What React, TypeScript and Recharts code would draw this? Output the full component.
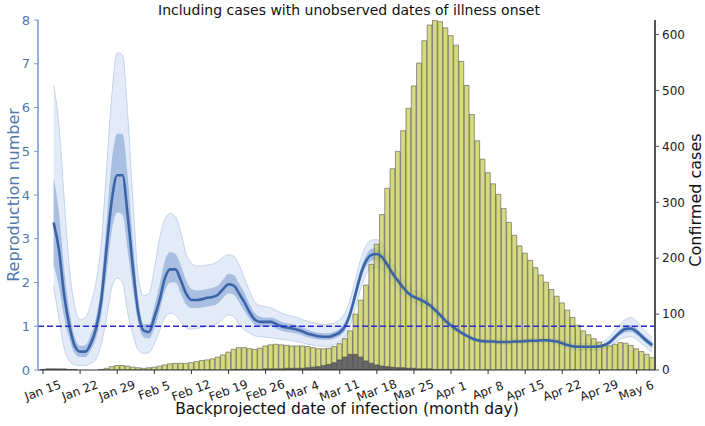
import React from 'react';
import { ComposedChart, Bar, Area, Line, XAxis, YAxis, ReferenceLine } from 'recharts';

// day 0 = Jan 15, last day = May 9
const tickDays = [0, 7, 14, 21, 28, 35, 42, 49, 56, 63, 70, 77, 84, 91, 98, 105, 112];
const tickLabels = ['Jan 15', 'Jan 22', 'Jan 29', 'Feb 5', 'Feb 12', 'Feb 19', 'Feb 26', 'Mar 4', 'Mar 11',
  'Mar 18', 'Mar 25', 'Apr 1', 'Apr 8', 'Apr 15', 'Apr 22', 'Apr 29', 'May 6'];

const totalCases = [
  // Jan 15-31
  1, 2, 2, 2, 2, 1, 1, 0, 0, 0, 0, 1, 3, 6, 8, 8, 7,
  // Feb
  5, 4, 3, 4, 5, 7, 9, 11, 12, 12, 12, 13, 15, 17, 18, 20, 23, 27, 32, 37, 40, 40, 38, 37, 39, 43, 45, 46, 45,
  // Mar
  44, 43, 43, 43, 42, 40, 38, 38, 39, 42, 47, 56, 70, 100, 125, 152, 189, 225, 278, 325, 360, 391, 428, 468,
  508, 549, 589, 617, 626, 623, 612,
  // Apr
  598, 581, 552, 509, 457, 410, 377, 353, 333, 314, 289, 264, 241, 222, 209, 196, 183, 170, 157, 144, 132,
  120, 107, 94, 80, 70, 63, 56, 50, 45,
  // May 1-9
  43, 46, 49, 48, 44, 38, 33, 28, 22,
];

const darkCases = [
  1, 2, 2, 2, 2, 1, 1, 0, 0, 0, 0, 0, 0, 0, 0, 0, 0,
  0, 0, 0, 0, 0, 0, 0, 0, 0, 0, 0, 0, 0, 0, 0, 0, 0, 0, 0, 1, 1, 1, 1, 1, 1, 2, 2, 2, 2,
  3, 3, 3, 3, 4, 5, 6, 8, 10, 13, 18, 23, 28, 28, 23, 16, 12, 9, 7, 6, 5, 4, 4, 3, 3, 2, 2, 2, 1, 1, 1,
  1, 1, 1, 0, 0, 0, 0, 0, 0, 0, 0, 0, 0, 0, 0, 0, 0, 0, 0, 0, 0, 0, 0, 0, 0, 0, 0, 0, 0, 0,
  0, 0, 0, 0, 0, 0, 0, 0, 0,
];

// reproduction number, Jan 17 - May 9
const rStartDay = 2;
const rMedian = [
  3.37, 2.75, 1.7, 1.0, 0.55, 0.42, 0.42, 0.6, 0.95, 1.6, 2.8, 3.9, 4.45, 4.45, 3.5,
  2.3, 1.3, 0.9, 0.87, 1.2, 1.6, 2.1, 2.3, 2.3, 2.05, 1.75, 1.6, 1.6, 1.62, 1.65, 1.67, 1.72, 1.85, 1.96, 1.93,
  1.75, 1.55, 1.32, 1.15, 1.1, 1.1, 1.1, 1.05, 1.0,
  0.97, 0.95, 0.92, 0.88, 0.83, 0.8, 0.77, 0.76, 0.76, 0.8, 0.86, 1.0, 1.3, 1.75, 2.2, 2.5, 2.63, 2.65, 2.58,
  2.4, 2.2, 2.04, 1.88, 1.75, 1.67, 1.62, 1.56, 1.48, 1.37, 1.25, 1.12,
  1.02, 0.93, 0.85, 0.78, 0.72, 0.68, 0.66, 0.65, 0.65, 0.64, 0.64, 0.64, 0.65, 0.65, 0.66, 0.67, 0.67, 0.68,
  0.68, 0.67, 0.65, 0.61, 0.57, 0.54, 0.53, 0.53, 0.53, 0.53, 0.54, 0.57,
  0.64, 0.76, 0.87, 0.94, 0.95, 0.88, 0.77, 0.66, 0.57,
];
const r50Lo = [
  2.4, 1.9, 1.2, 0.7, 0.38, 0.3, 0.3, 0.45, 0.72, 1.25, 2.2, 3.2, 3.6, 3.55, 2.7,
  1.8, 1.05, 0.75, 0.72, 0.95, 1.35, 1.8, 2.0, 2.0, 1.75, 1.5, 1.42, 1.42, 1.43, 1.45, 1.47, 1.52, 1.65, 1.75,
  1.72, 1.55, 1.35, 1.17, 1.03, 0.99, 0.99, 1.0, 0.95, 0.9,
  0.87, 0.85, 0.83, 0.79, 0.75, 0.72, 0.7, 0.69, 0.69, 0.72, 0.78, 0.9, 1.2, 1.63, 2.07, 2.37, 2.5, 2.52, 2.46,
  2.3, 2.11, 1.96, 1.81, 1.69, 1.61, 1.56, 1.5, 1.43, 1.32, 1.2, 1.08,
  0.98, 0.9, 0.82, 0.76, 0.7, 0.66, 0.64, 0.63, 0.63, 0.62, 0.62, 0.62, 0.63, 0.63, 0.64, 0.65, 0.65, 0.66,
  0.66, 0.65, 0.62, 0.58, 0.54, 0.51, 0.5, 0.5, 0.5, 0.5, 0.51, 0.53,
  0.59, 0.7, 0.8, 0.86, 0.87, 0.8, 0.7, 0.59, 0.5,
];
const r50Hi = [
  4.4, 3.6, 2.3, 1.35, 0.75, 0.55, 0.57, 0.8, 1.2, 2.0, 3.4, 4.8, 5.4, 5.4, 4.4,
  2.9, 1.6, 1.05, 1.05, 1.45, 1.95, 2.5, 2.7, 2.65, 2.4, 2.05, 1.85, 1.82, 1.83, 1.85, 1.88, 1.93, 2.07, 2.2,
  2.17, 1.97, 1.77, 1.5, 1.3, 1.22, 1.2, 1.2, 1.16, 1.1,
  1.07, 1.05, 1.02, 0.97, 0.92, 0.88, 0.85, 0.84, 0.84, 0.88, 0.95, 1.1, 1.42, 1.88, 2.33, 2.63, 2.77, 2.78,
  2.7, 2.5, 2.3, 2.12, 1.95, 1.82, 1.73, 1.68, 1.62, 1.53, 1.42, 1.3, 1.16,
  1.06, 0.96, 0.88, 0.8, 0.74, 0.7, 0.68, 0.67, 0.67, 0.66, 0.66, 0.66, 0.67, 0.67, 0.68, 0.69, 0.69, 0.7,
  0.7, 0.69, 0.68, 0.64, 0.6, 0.57, 0.56, 0.56, 0.56, 0.56, 0.57, 0.61,
  0.69, 0.82, 0.94, 1.02, 1.03, 0.96, 0.84, 0.73, 0.64,
];
const r95Lo = [
  1.9, 1.2, 0.5, 0.2, 0.12, 0.1, 0.1, 0.15, 0.25, 0.6, 1.2, 1.9, 2.1, 2.0, 1.3,
  0.8, 0.45, 0.38, 0.4, 0.6, 0.9, 1.2, 1.3, 1.25, 1.1, 0.97, 0.93, 0.95, 0.97, 1.0, 1.02, 1.07, 1.18, 1.26,
  1.22, 1.05, 0.92, 0.84, 0.78, 0.76, 0.75, 0.74, 0.72, 0.7,
  0.69, 0.67, 0.65, 0.62, 0.59, 0.57, 0.55, 0.54, 0.55, 0.58, 0.63, 0.75, 1.02, 1.45, 1.88, 2.2, 2.32, 2.34,
  2.3, 2.16, 1.99, 1.86, 1.72, 1.61, 1.54, 1.5, 1.44, 1.37, 1.27, 1.16, 1.04,
  0.95, 0.87, 0.8, 0.74, 0.68, 0.64, 0.62, 0.6, 0.6, 0.59, 0.59, 0.59, 0.6, 0.6, 0.61, 0.62, 0.62, 0.63,
  0.63, 0.62, 0.59, 0.55, 0.5, 0.47, 0.45, 0.45, 0.45, 0.45, 0.46, 0.48,
  0.53, 0.62, 0.71, 0.75, 0.76, 0.7, 0.6, 0.5, 0.41,
];
const r95Hi = [
  6.5, 5.6, 3.9, 2.3, 1.45, 1.15, 1.2, 1.5, 2.0, 2.9, 4.6, 6.3, 7.25, 7.2, 5.8,
  3.8, 2.1, 1.7, 1.75, 2.3, 3.0, 3.45, 3.58, 3.5, 3.15, 2.65, 2.45, 2.38, 2.38, 2.4, 2.42, 2.48, 2.58, 2.63,
  2.6, 2.4, 2.1, 1.8, 1.55, 1.47, 1.45, 1.42, 1.36, 1.3,
  1.26, 1.23, 1.2, 1.15, 1.11, 1.08, 1.05, 1.04, 1.05, 1.08, 1.15, 1.3, 1.62, 2.1, 2.55, 2.85, 2.97, 2.98,
  2.88, 2.66, 2.43, 2.24, 2.05, 1.9, 1.81, 1.75, 1.68, 1.59, 1.47, 1.34, 1.2,
  1.09, 0.99, 0.9, 0.82, 0.76, 0.72, 0.7, 0.7, 0.7, 0.69, 0.69, 0.69, 0.7, 0.7, 0.71, 0.72, 0.72, 0.73,
  0.73, 0.72, 0.71, 0.68, 0.64, 0.61, 0.6, 0.6, 0.6, 0.6, 0.62, 0.67,
  0.77, 0.92, 1.06, 1.16, 1.2, 1.12, 0.98, 0.85, 0.74,
];

const rows = totalCases.map((total, day) => {
  const i = day - rStartDay;
  const hasR = i >= 0 && i < rMedian.length;
  return {
    day,
    dark: darkCases[day],
    rest: total - darkCases[day],
    r: hasR ? rMedian[i] : null,
    ci50: hasR ? [r50Lo[i], r50Hi[i]] : null,
    ci95: hasR ? [r95Lo[i], r95Hi[i]] : null,
  };
});

const font = '"DejaVu Sans", sans-serif';
const blue = '#4f78ab';

function DateTick(props: any) {
  const { x, y, payload } = props;
  const label = tickLabels[tickDays.indexOf(payload.value)];
  const ty = y + 15;
  return (
    <text x={x} y={ty} transform={`rotate(-20 ${x} ${ty})`} textAnchor="middle" dominantBaseline="middle"
      fontSize={12} fontFamily={font} fill="#1a1a1a">{label}</text>
  );
}

export default function App() {
  return (
    <div style={{ position: 'relative', width: 705, height: 426, background: '#fff' }}>
      <style>{'body{margin:0}'}</style>
      <ComposedChart width={705} height={426} data={rows} margin={{ top: 20, right: 0, bottom: 0, left: 0 }}
        barCategoryGap={0} barGap={0}>
        <XAxis dataKey="day" type="number" domain={[-0.95, 115.5]} allowDataOverflow ticks={tickDays}
          tick={<DateTick />} tickSize={4} height={56} interval={0}
          stroke="#333" axisLine={{ stroke: '#333' }} tickLine={{ stroke: '#333' }} />
        <YAxis yAxisId="left" domain={[0, 8]} ticks={[0, 1, 2, 3, 4, 5, 6, 7, 8]} width={38} allowDataOverflow
          tickSize={4} tickMargin={4} axisLine={{ stroke: '#6f97d0', strokeWidth: 1.5 }} tickLine={{ stroke: '#6f97d0' }}
          tick={{ fill: blue, fontSize: 13, fontFamily: font }} />
        <YAxis yAxisId="right" orientation="right" domain={[0, 626]} ticks={[0, 100, 200, 300, 400, 500, 600]}
          width={50} allowDataOverflow tickSize={4} tickMargin={3}
          axisLine={{ stroke: '#555', strokeWidth: 2 }} tickLine={{ stroke: '#555' }}
          tick={{ fill: '#1a1a1a', fontSize: 12, fontFamily: font }} />
        <Area yAxisId="left" dataKey="ci95" type="monotone" fill="#e3ebf8" fillOpacity={1} stroke="#c3d3ec"
          strokeWidth={1} isAnimationActive={false} />
        <Area yAxisId="left" dataKey="ci50" type="monotone" fill="#a8bfe1" fillOpacity={1} stroke="none"
          isAnimationActive={false} />
        <Line yAxisId="left" dataKey="r" type="monotone" stroke="#3b64a8" strokeWidth={2.6} dot={false}
          isAnimationActive={false} />
        <Bar yAxisId="right" dataKey="dark" stackId="cases" barSize={5.3} fill="#4d4d4d" fillOpacity={0.85}
          stroke="#444" strokeWidth={0.7} isAnimationActive={false} />
        <Bar yAxisId="right" dataKey="rest" stackId="cases" barSize={5.3} fill="#bfc93f" fillOpacity={0.68}
          stroke="#555" strokeOpacity={0.85} strokeWidth={0.7} isAnimationActive={false} />
        <ReferenceLine yAxisId="left" y={1} stroke="#2a2ad0" strokeDasharray="6 3" strokeWidth={1.6} />
      </ComposedChart>
      <svg width={705} height={426} style={{ position: 'absolute', left: 0, top: 0, pointerEvents: 'none' }}>
        <text x={349} y={15} textAnchor="middle" fontSize={14} fontFamily={font} fill="#111">
          Including cases with unobserved dates of illness onset
        </text>
        <text x={14} y={195} transform="rotate(-90 14 195)" textAnchor="middle" dominantBaseline="middle"
          fontSize={16} fontFamily={font} fill={blue}>Reproduction number</text>
        <text x={696} y={200} transform="rotate(-90 696 200)" textAnchor="middle" dominantBaseline="middle"
          fontSize={16} fontFamily={font} fill="#111">Confirmed cases</text>
        <text x={347} y={414} textAnchor="middle" fontSize={15.5} fontFamily={font} fill="#111">
          Backprojected date of infection (month day)
        </text>
      </svg>
    </div>
  );
}
